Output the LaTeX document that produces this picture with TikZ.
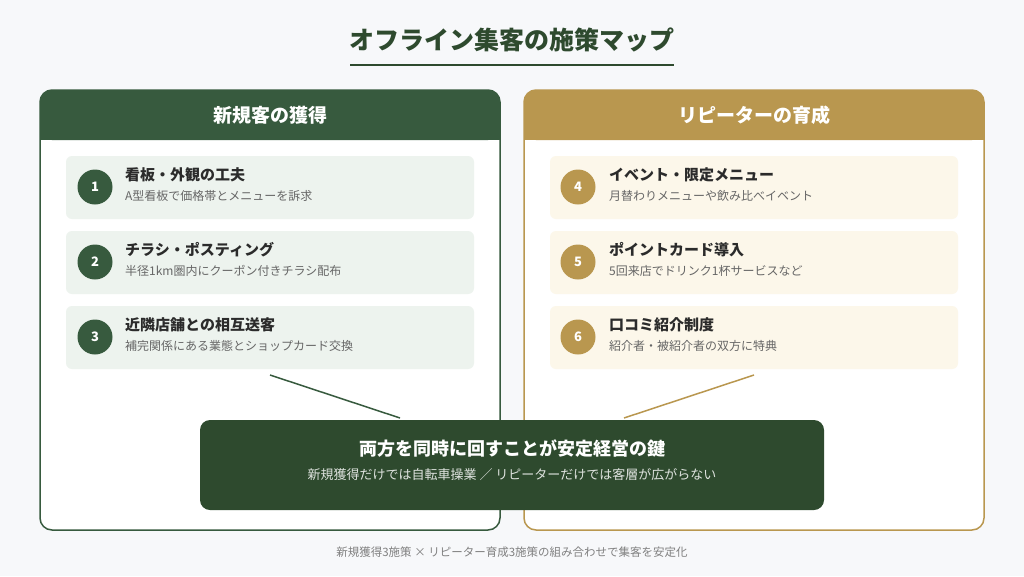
\documentclass[tikz,border=0pt]{standalone}
\usepackage{fontspec}
\setmainfont{Noto Sans CJK JP}
\definecolor{gr}{HTML}{375A3E}
\definecolor{dk}{HTML}{2E4A2E}
\definecolor{gd}{HTML}{B9974F}
\definecolor{lg}{HTML}{EDF3EE}
\definecolor{ly}{HTML}{FCF7EA}
\definecolor{bg}{HTML}{F7F8FA}
\definecolor{tx}{HTML}{2B2B2B}
\definecolor{st}{HTML}{666666}
\begin{document}
\begin{tikzpicture}[x=1pt,y=-1pt,
 ttl/.style={font=\bfseries\fontsize{15}{17}\selectfont,text=tx,anchor=west,inner sep=0},
 sub/.style={font=\fontsize{12}{14}\selectfont,text=st,anchor=west,inner sep=0},
 num/.style={circle,minimum size=35pt,inner sep=0,text=white,font=\bfseries\fontsize{13}{15}\selectfont}]
\useasboundingbox (0,0) rectangle (1024,576);
\fill[bg] (0,0) rectangle (1024,576);
\node[font=\bfseries\fontsize{25}{29}\selectfont,text=dk] (title) at (512,40) {オフライン集客の施策マップ};
\draw[dk,line width=2.5pt] (350,65) -- (674,65);
% left panel
\fill[white,rounded corners=12pt] (40,90) rectangle (500,530);
\fill[gr,rounded corners=12pt] (40,90) rectangle (500,140);
\fill[gr] (40,125) rectangle (500,140);
\draw[gr,line width=1.5pt,rounded corners=12pt] (40,90) rectangle (500,530);
\node[font=\bfseries\fontsize{19}{22}\selectfont,text=white] (lh) at (270,115) {新規客の獲得};
% right panel
\fill[white,rounded corners=12pt] (524,90) rectangle (984,530);
\fill[gd,rounded corners=12pt] (524,90) rectangle (984,140);
\fill[gd] (524,125) rectangle (984,140);
\draw[gd,line width=1.5pt,rounded corners=12pt] (524,90) rectangle (984,530);
\node[font=\bfseries\fontsize{19}{22}\selectfont,text=white] (rh) at (754,115) {リピーターの育成};
% items
\foreach \y/\n/\t/\s in {156/1/看板・外観の工夫/A型看板で価格帯とメニューを訴求,231/2/チラシ・ポスティング/半径1km圏内にクーポン付きチラシ配布,306/3/近隣店舗との相互送客/補完関係にある業態とショップカード交換}{
 \fill[lg,rounded corners=6pt] (66,\y) rectangle (474,\y+63);
 \node[num,fill=gr] (n\n) at (95,\y+31) {\n};
 \node[ttl] (t\n) at (125,\y+19) {\t};
 \node[sub] (s\n) at (125,\y+40) {\s};
}
\foreach \y/\n/\t/\s in {156/4/イベント・限定メニュー/月替わりメニューや飲み比べイベント,231/5/ポイントカード導入/5回来店でドリンク1杯サービスなど,306/6/口コミ紹介制度/紹介者・被紹介者の双方に特典}{
 \fill[ly,rounded corners=6pt] (550,\y) rectangle (958,\y+63);
 \node[num,fill=gd] (n\n) at (578,\y+31) {\n};
 \node[ttl] (t\n) at (609,\y+19) {\t};
 \node[sub] (s\n) at (609,\y+40) {\s};
}
% bottom box
\fill[dk,rounded corners=10pt] (200,420) rectangle (824,510);
\coordinate (bl) at (400,418);
\coordinate (br) at (624,418);
\coordinate (la) at (270,375);
\coordinate (ra) at (754,375);
\draw[gr,line width=1.5pt] (la) -- (bl);
\draw[gd,line width=1.5pt] (ra) -- (br);
\node[font=\bfseries\fontsize{18}{21}\selectfont,text=white] (k) at (512,449) {両方を同時に回すことが安定経営の鍵};
\node[font=\fontsize{13}{15}\selectfont,text=white!85!dk] (k2) at (512,475) {新規獲得だけでは自転車操業 ／ リピーターだけでは客層が広がらない};
\node[font=\fontsize{11.5}{13}\selectfont,text=gray] (f) at (512,552) {新規獲得3施策 × リピーター育成3施策の組み合わせで集客を安定化};
\end{tikzpicture}
\end{document}
